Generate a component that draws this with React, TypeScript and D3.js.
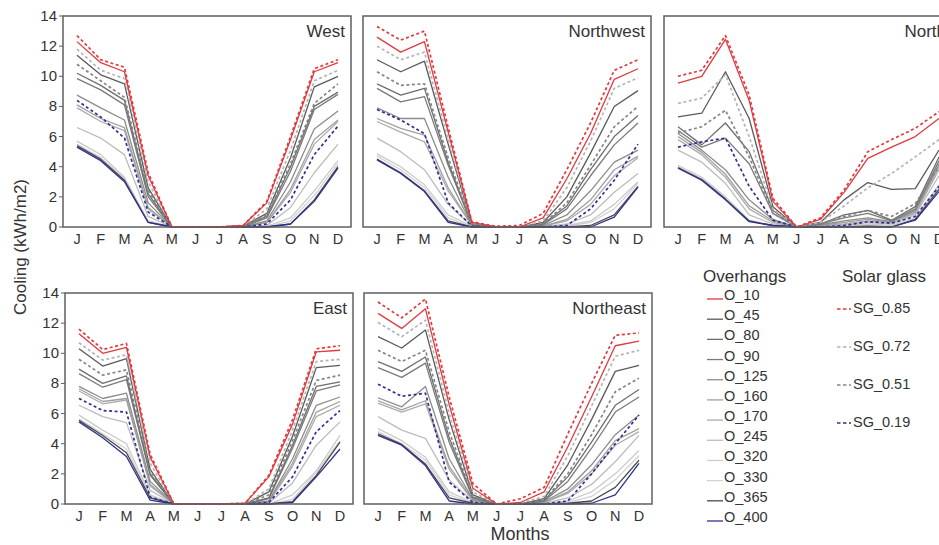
import React from 'react';
import * as d3 from 'd3';

// Month tick labels
const months = ['J', 'F', 'M', 'A', 'M', 'J', 'J', 'A', 'S', 'O', 'N', 'D'];
const yTicks = [0, 2, 4, 6, 8, 10, 12, 14];

const overhangs = ['O_10', 'O_45', 'O_80', 'O_90', 'O_125', 'O_160', 'O_170', 'O_245', 'O_320', 'O_330', 'O_365', 'O_400'];
const solarGlass = ['SG_0.85', 'SG_0.72', 'SG_0.51', 'SG_0.19'];

// rows: O_10 .. O_400, then SG_0.85, SG_0.72, SG_0.51, SG_0.19
const west = [
  [12.3, 10.9, 10.3, 3.4, 0, 0, 0, 0.1, 1.6, 5.8, 10.3, 10.9],
  [11.4, 10.1, 9.5, 2.6, 0, 0, 0, 0.05, 0.9, 4.6, 9.3, 10.0],
  [10.2, 9.4, 8.4, 2.2, 0, 0, 0, 0.05, 0.7, 4.0, 8.0, 8.95],
  [9.85, 9.1, 8.1, 2.0, 0, 0, 0, 0, 0.6, 3.7, 7.8, 8.8],
  [8.75, 7.9, 7.1, 1.6, 0, 0, 0, 0, 0.4, 3.0, 6.5, 7.7],
  [8.1, 7.2, 6.6, 1.3, 0, 0, 0, 0, 0.3, 2.5, 5.8, 7.1],
  [7.9, 7.0, 6.4, 1.2, 0, 0, 0, 0, 0.3, 2.3, 5.5, 7.0],
  [6.6, 5.9, 4.8, 0.7, 0, 0, 0, 0, 0.1, 1.3, 3.6, 5.5],
  [5.7, 4.8, 3.3, 0.4, 0, 0, 0, 0, 0.05, 0.6, 2.4, 4.4],
  [5.5, 4.6, 3.2, 0.35, 0, 0, 0, 0, 0, 0.4, 2.1, 4.2],
  [5.4, 4.5, 3.1, 0.3, 0, 0, 0, 0, 0, 0.2, 1.8, 4.0],
  [5.3, 4.4, 3.0, 0.3, 0, 0, 0, 0, 0, 0.2, 1.7, 3.9],
  [12.7, 11.1, 10.6, 3.6, 0, 0, 0, 0.1, 1.7, 6.0, 10.5, 11.1],
  [11.8, 10.4, 9.85, 3.0, 0, 0, 0, 0.05, 1.2, 5.1, 9.7, 10.4],
  [10.8, 9.7, 8.6, 2.4, 0, 0, 0, 0.05, 0.8, 4.2, 8.2, 9.5],
  [8.4, 7.3, 5.9, 1.0, 0, 0, 0, 0, 0.2, 1.8, 4.8, 6.7],
];

const northwest = [
  [12.6, 11.6, 12.3, 6.3, 0.3, 0, 0, 0.6, 3.2, 6.2, 9.8, 10.5],
  [11.1, 10.3, 11.0, 5.5, 0.2, 0, 0, 0.3, 2.0, 4.9, 8.0, 9.05],
  [9.5, 8.75, 9.2, 4.3, 0.15, 0, 0, 0.2, 1.4, 3.8, 6.0, 7.4],
  [9.2, 8.3, 8.65, 4.1, 0.15, 0, 0, 0.15, 1.2, 3.4, 5.45, 6.9],
  [7.9, 7.2, 7.2, 3.3, 0.1, 0, 0, 0.1, 0.8, 2.4, 4.3, 5.1],
  [7.2, 6.55, 6.1, 2.6, 0.1, 0, 0, 0.05, 0.5, 1.8, 3.8, 4.7],
  [7.0, 6.3, 5.65, 2.4, 0.1, 0, 0, 0.05, 0.4, 1.5, 3.4, 4.6],
  [5.9, 5.0, 3.8, 1.5, 0.05, 0, 0, 0, 0.2, 0.8, 2.3, 3.55],
  [4.85, 4.0, 2.8, 0.8, 0.05, 0, 0, 0, 0.1, 0.4, 1.5, 3.0],
  [4.7, 3.8, 2.6, 0.6, 0, 0, 0, 0, 0.05, 0.3, 1.2, 2.9],
  [4.5, 3.6, 2.4, 0.4, 0, 0, 0, 0, 0, 0.1, 0.8, 2.7],
  [4.45, 3.55, 2.35, 0.3, 0, 0, 0, 0, 0, 0, 0.65, 2.65],
  [13.3, 12.4, 13.0, 6.6, 0.35, 0.05, 0.1, 0.9, 3.8, 6.9, 10.4, 11.1],
  [12.0, 11.1, 11.6, 5.8, 0.25, 0, 0, 0.4, 2.6, 5.7, 9.2, 9.9],
  [10.3, 9.4, 9.5, 4.6, 0.2, 0, 0, 0.2, 1.6, 4.1, 6.65, 8.0],
  [7.8, 7.1, 6.2, 1.6, 0.05, 0, 0, 0, 0.1, 1.2, 3.1, 5.5],
];

const north = [
  [9.55, 10.0, 12.45, 8.4, 1.7, 0, 0.5, 2.3, 4.55, 5.3, 6.0, 7.2],
  [7.3, 7.55, 10.3, 7.2, 1.35, 0, 0.3, 1.8, 2.95, 2.5, 2.55, 5.1],
  [6.65, 5.45, 6.9, 5.0, 1.1, 0, 0.2, 0.8, 1.1, 0.45, 1.35, 4.65],
  [6.4, 5.3, 5.9, 4.2, 0.9, 0, 0.2, 0.6, 0.9, 0.4, 1.2, 4.4],
  [6.2, 5.1, 3.8, 1.8, 0.5, 0, 0.15, 0.4, 0.6, 0.35, 1.1, 4.2],
  [6.0, 4.95, 3.5, 1.4, 0.4, 0, 0.1, 0.3, 0.5, 0.3, 1.0, 4.0],
  [5.8, 4.8, 3.3, 1.2, 0.3, 0, 0.1, 0.2, 0.4, 0.3, 0.9, 3.8],
  [5.1, 4.3, 2.9, 0.8, 0.2, 0, 0.05, 0.1, 0.3, 0.2, 0.8, 3.4],
  [4.1, 3.3, 2.0, 0.45, 0.1, 0, 0, 0.05, 0.2, 0.1, 0.6, 2.8],
  [4.0, 3.2, 1.9, 0.4, 0.1, 0, 0, 0, 0.1, 0.05, 0.5, 2.6],
  [3.95, 3.15, 1.85, 0.4, 0.1, 0, 0, 0, 0.05, 0, 0.5, 2.5],
  [3.9, 3.1, 1.8, 0.35, 0.1, 0, 0, 0, 0, 0, 0.45, 2.35],
  [10.0, 10.4, 12.7, 8.75, 1.9, 0, 0.6, 2.45, 5.0, 5.8, 6.55, 7.65],
  [8.2, 8.55, 10.1, 6.0, 1.2, 0, 0.3, 1.4, 2.6, 3.55, 4.65, 5.8],
  [6.25, 6.65, 7.75, 4.65, 0.9, 0, 0.2, 0.7, 1.1, 0.7, 1.55, 4.0],
  [5.3, 5.65, 5.9, 2.7, 0.45, 0, 0, 0.1, 0.35, 0.25, 0.7, 2.7],
];

const east = [
  [11.3, 10.0, 10.4, 3.1, 0, 0, 0, 0.05, 1.8, 5.3, 10.1, 10.2],
  [10.3, 9.15, 9.65, 2.3, 0, 0, 0, 0, 0.8, 4.5, 9.05, 9.2],
  [8.95, 8.0, 8.5, 2.0, 0, 0, 0, 0, 0.4, 3.9, 7.8, 8.1],
  [8.65, 7.75, 8.25, 1.9, 0, 0, 0, 0, 0.35, 3.7, 7.5, 7.9],
  [7.8, 7.0, 7.35, 1.5, 0, 0, 0, 0, 0.2, 3.0, 6.55, 7.1],
  [7.65, 6.8, 7.0, 1.3, 0, 0, 0, 0, 0.15, 2.7, 6.1, 6.8],
  [7.5, 6.65, 6.9, 1.2, 0, 0, 0, 0, 0.1, 2.5, 5.8, 6.55],
  [6.55, 5.8, 5.4, 0.9, 0, 0, 0, 0, 0.05, 1.4, 3.9, 5.45],
  [5.9, 4.9, 4.0, 0.6, 0, 0, 0, 0, 0, 0.6, 2.2, 4.55],
  [5.65, 4.65, 3.65, 0.5, 0, 0, 0, 0, 0, 0.3, 2.1, 4.2],
  [5.55, 4.55, 3.4, 0.4, 0, 0, 0, 0, 0, 0.15, 1.9, 4.1],
  [5.45, 4.4, 3.15, 0.25, 0, 0, 0, 0, 0, 0.1, 1.8, 3.65],
  [11.6, 10.25, 10.65, 3.3, 0, 0, 0, 0.05, 1.9, 5.6, 10.3, 10.5],
  [10.7, 9.55, 9.9, 2.7, 0, 0, 0, 0, 1.0, 4.9, 9.45, 9.6],
  [9.6, 8.55, 8.9, 2.2, 0, 0, 0, 0, 0.6, 4.2, 8.2, 8.55],
  [7.0, 6.2, 6.1, 0.45, 0, 0, 0, 0, 0.1, 1.8, 4.8, 6.2],
];

const northeast = [
  [12.65, 11.65, 12.95, 6.6, 1.05, 0, 0.1, 0.8, 3.8, 7.1, 10.5, 10.8],
  [11.1, 10.35, 11.55, 5.6, 0.6, 0, 0, 0.35, 2.6, 5.6, 8.8, 9.2],
  [9.45, 8.8, 9.75, 4.4, 0.45, 0, 0, 0.25, 1.8, 4.1, 6.55, 7.6],
  [9.05, 8.4, 9.35, 4.1, 0.4, 0, 0, 0.2, 1.5, 3.7, 6.1, 7.1],
  [7.05, 6.45, 7.8, 3.0, 0.3, 0, 0, 0.15, 1.0, 2.6, 4.6, 5.9],
  [6.85, 6.25, 6.85, 2.5, 0.25, 0, 0, 0.1, 0.8, 2.2, 4.2, 5.0],
  [6.7, 6.1, 6.65, 2.3, 0.2, 0, 0, 0.1, 0.7, 2.0, 3.9, 4.8],
  [5.8, 4.9, 4.35, 1.6, 0.15, 0, 0, 0.05, 0.4, 1.3, 2.8, 4.55],
  [5.0, 4.2, 3.1, 0.8, 0.1, 0, 0, 0, 0.2, 0.8, 2.0, 3.55],
  [4.8, 4.0, 2.9, 0.6, 0.05, 0, 0, 0, 0.1, 0.5, 1.6, 3.2],
  [4.65, 3.95, 2.65, 0.4, 0.05, 0, 0, 0, 0.05, 0.2, 1.1, 2.9],
  [4.55, 3.9, 2.55, 0.2, 0, 0, 0, 0, 0, 0.05, 0.6, 2.7],
  [13.4, 12.35, 13.6, 7.1, 1.35, 0, 0.35, 1.1, 4.65, 8.0, 11.2, 11.35],
  [12.05, 11.1, 12.2, 6.0, 0.8, 0, 0.05, 0.5, 3.2, 6.5, 9.8, 10.2],
  [10.2, 9.45, 10.2, 4.8, 0.5, 0, 0, 0.3, 2.0, 4.6, 7.45, 8.35],
  [7.95, 7.15, 7.35, 1.45, 0.1, 0, 0, 0, 0.2, 2.0, 4.0, 5.9],
];

// styles
const ohColors = ['#e0393e', '#5a5a5a', '#6e6e6e', '#7a7a7a', '#8c8c8c', '#a0a0a0', '#acacac', '#bcbcbc', '#cacaca', '#d2d2d2', '#4a4a4a', '#2e3192'];
const sgColors = ['#e0393e', '#b4b4b4', '#858585', '#2e3192'];
// light series first so red / dark sit on top
const drawOrder = [9, 8, 7, 6, 5, 4, 3, 2, 1, 10, 11, 13, 14, 15, 0, 12];

const FONT = 'Liberation Sans, Arial, Helvetica, sans-serif';
const W = 939;
const H = 545;
const PW = 288;
const PH = 211;

const panels = [
  { name: 'West', data: west, x: 63, y: 16, yAxis: true },
  { name: 'Northwest', data: northwest, x: 363, y: 16, yAxis: false },
  { name: 'North', data: north, x: 664, y: 16, yAxis: false },
  { name: 'East', data: east, x: 65, y: 293, yAxis: true },
  { name: 'Northeast', data: northeast, x: 364, y: 293, yAxis: false },
];

const Panel = ({ p }: { p: typeof panels[number] }) => {
  const x = d3.scalePoint<number>().domain(d3.range(12)).range([p.x + 14, p.x + 275]);
  const y = d3.scaleLinear().domain([0, 14]).range([p.y + PH, p.y]);
  const line = d3.line<number>().x((_, i) => x(i)!).y(d => y(d));

  return (
    <g>
      {drawOrder.map(k => {
        const isSG = k >= 12;
        const color = isSG ? sgColors[k - 12] : ohColors[k];
        return (
          <path key={k} d={line(p.data[k]) || ''} fill="none" stroke={color}
            strokeWidth={isSG ? 1.7 : 1.3} strokeDasharray={isSG ? '3,2.5' : undefined}
            strokeLinejoin="round" />
        );
      })}
      <rect x={p.x} y={p.y} width={PW} height={PH} fill="none" stroke="#5f5f5f" strokeWidth={1.5} />
      {months.map((m, i) => (
        <text key={i} x={x(i)} y={p.y + PH + 17} textAnchor="middle" fontSize={14.5}
          fill="#333" fontFamily={FONT}>{m}</text>
      ))}
      {p.yAxis && yTicks.map(t => (
        <g key={t}>
          <line x1={p.x - 4} x2={p.x} y1={y(t)} y2={y(t)} stroke="#5f5f5f" strokeWidth={1} />
          <text x={p.x - 6} y={y(t) + 5} textAnchor="end" fontSize={15} fill="#333" fontFamily={FONT}>{t}</text>
        </g>
      ))}
      <text x={p.x + PW - 6} y={p.y + 21} textAnchor="end" fontSize={17} fill="#333" fontFamily={FONT}>{p.name}</text>
    </g>
  );
};

const Legend = () => {
  const ohY = d3.scaleLinear().domain([0, 11]).range([300, 522]);
  const sgY = d3.scaleLinear().domain([0, 3]).range([313, 427]);
  return (
    <g fontFamily={FONT} fill="#333">
      <text x={703} y={282} fontSize={17}>Overhangs</text>
      <text x={842} y={282} fontSize={17}>Solar glass</text>
      {overhangs.map((n, i) => (
        <g key={n}>
          <line x1={707} x2={723} y1={ohY(i) - 1} y2={ohY(i) - 1} stroke={ohColors[i]} strokeWidth={1.3} />
          <text x={724} y={ohY(i)} fontSize={14.5}>{n}</text>
        </g>
      ))}
      {solarGlass.map((n, i) => (
        <g key={n}>
          <line x1={837} x2={851} y1={sgY(i) - 4} y2={sgY(i) - 4} stroke={sgColors[i]} strokeWidth={1.7} strokeDasharray="3.5,2.5" />
          <text x={853} y={sgY(i)} fontSize={14.5}>{n}</text>
        </g>
      ))}
    </g>
  );
};

export default function App() {
  return (
    <svg width={W} height={H} style={{ position: 'absolute', left: 0, top: 0, background: '#fff' }}>
      <rect width={W} height={H} fill="#fff" />
      {panels.map(p => <Panel key={p.name} p={p} />)}
      <text transform="translate(26,247) rotate(-90)" textAnchor="middle" fontSize={17}
        fill="#333" fontFamily={FONT}>Cooling (kWh/m2)</text>
      <text x={520} y={540} textAnchor="middle" fontSize={18} fill="#333" fontFamily={FONT}>Months</text>
      <Legend />
    </svg>
  );
}
